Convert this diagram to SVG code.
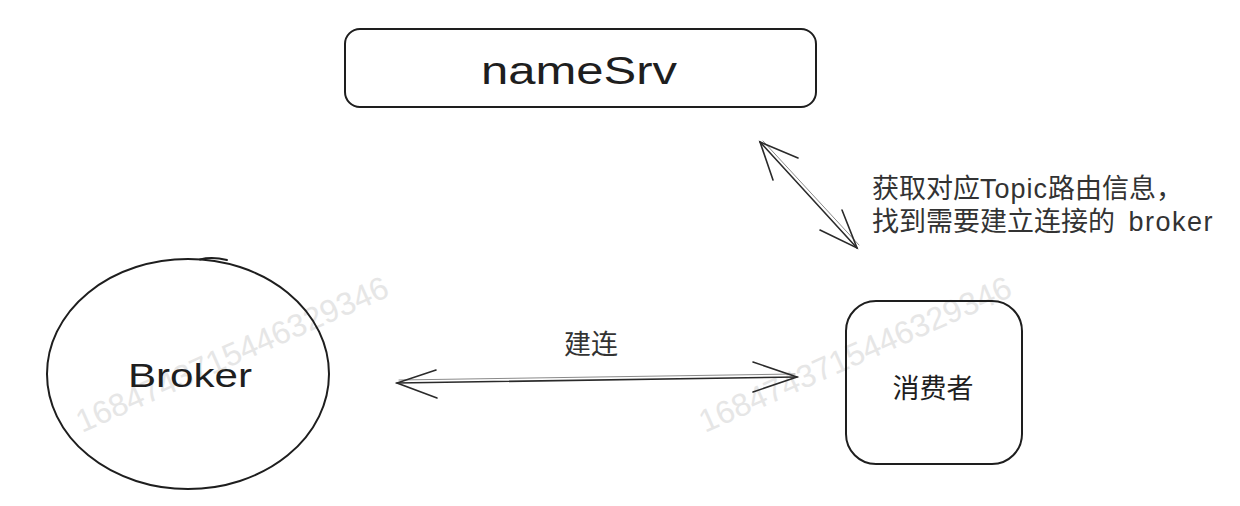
<svg xmlns="http://www.w3.org/2000/svg" width="1240" height="506" viewBox="0 0 1240 506">
<style>
.shape{fill:none;stroke:#1e1e1e;stroke-width:2;stroke-linecap:round;stroke-linejoin:round}
.conn{fill:none;stroke:#2a2a2a;stroke-width:1.6;stroke-linecap:round}
.conn2{fill:none;stroke:#8a8a8a;stroke-width:1;stroke-linecap:round}
.txt{font-family:"Liberation Sans","Noto Sans CJK SC",sans-serif;fill:#1e1e1e}
.lbl{font-family:"Liberation Sans","Noto Sans CJK SC",sans-serif;fill:#333;font-size:27px}
.wm{font-family:"Liberation Sans",sans-serif;fill:#e6e6e6;font-size:32px}
</style>
<rect width="1240" height="506" fill="#ffffff"/>
<g id="watermarks">
<text class="wm" transform="translate(82,433) rotate(-24)">1684743715446329346</text>
<text class="wm" transform="translate(705,433) rotate(-24)">1684743715446329346</text>
</g>
<g id="nameSrv">
<rect class="shape" x="345" y="29" width="471" height="78" rx="15"/>
<text class="txt" x="579" y="84" font-size="38" text-anchor="middle" textLength="196" lengthAdjust="spacingAndGlyphs">nameSrv</text>
</g>
<g id="broker">
<ellipse class="shape" cx="188" cy="374" rx="141" ry="115"/>
<path class="shape" d="M200 259.5 Q212 256.5 227 260" stroke-width="1.4"/>
<text class="txt" x="190" y="387" font-size="34" text-anchor="middle" textLength="124" lengthAdjust="spacingAndGlyphs">Broker</text>
</g>
<g id="consumer">
<rect class="shape" x="846" y="301" width="176" height="163" rx="30"/>
<text class="txt" x="933" y="398" font-size="27" text-anchor="middle" fill="#333">消费者</text>
</g>
<g id="connectors">
<g id="arrow-namesrv-consumer">
<line class="conn" x1="760" y1="142" x2="857" y2="248"/>
<line class="conn2" x1="763" y1="141" x2="859" y2="245"/>
<polyline class="conn" points="798,158 760,142 773,180"/>
<polyline class="conn" points="820,230 857,248 842,210"/>
</g>
<g id="arrow-broker-consumer">
<line class="conn" x1="397" y1="383" x2="797" y2="377"/>
<line class="conn2" x1="399" y1="380" x2="795" y2="374"/>
<polyline class="conn" points="436,370 397,383 437,398"/>
<polyline class="conn" points="753,362 797,377 753,392"/>
</g>
<text class="lbl" x="872" y="198">获取对应<tspan letter-spacing="1">Topic</tspan>路由信息，</text>
<text class="lbl" x="872" y="231">找到需要建立连接的 <tspan dx="6" letter-spacing="1.5">broker</tspan></text>
<text class="lbl" x="591" y="354" text-anchor="middle">建连</text>
</g>
</svg>
